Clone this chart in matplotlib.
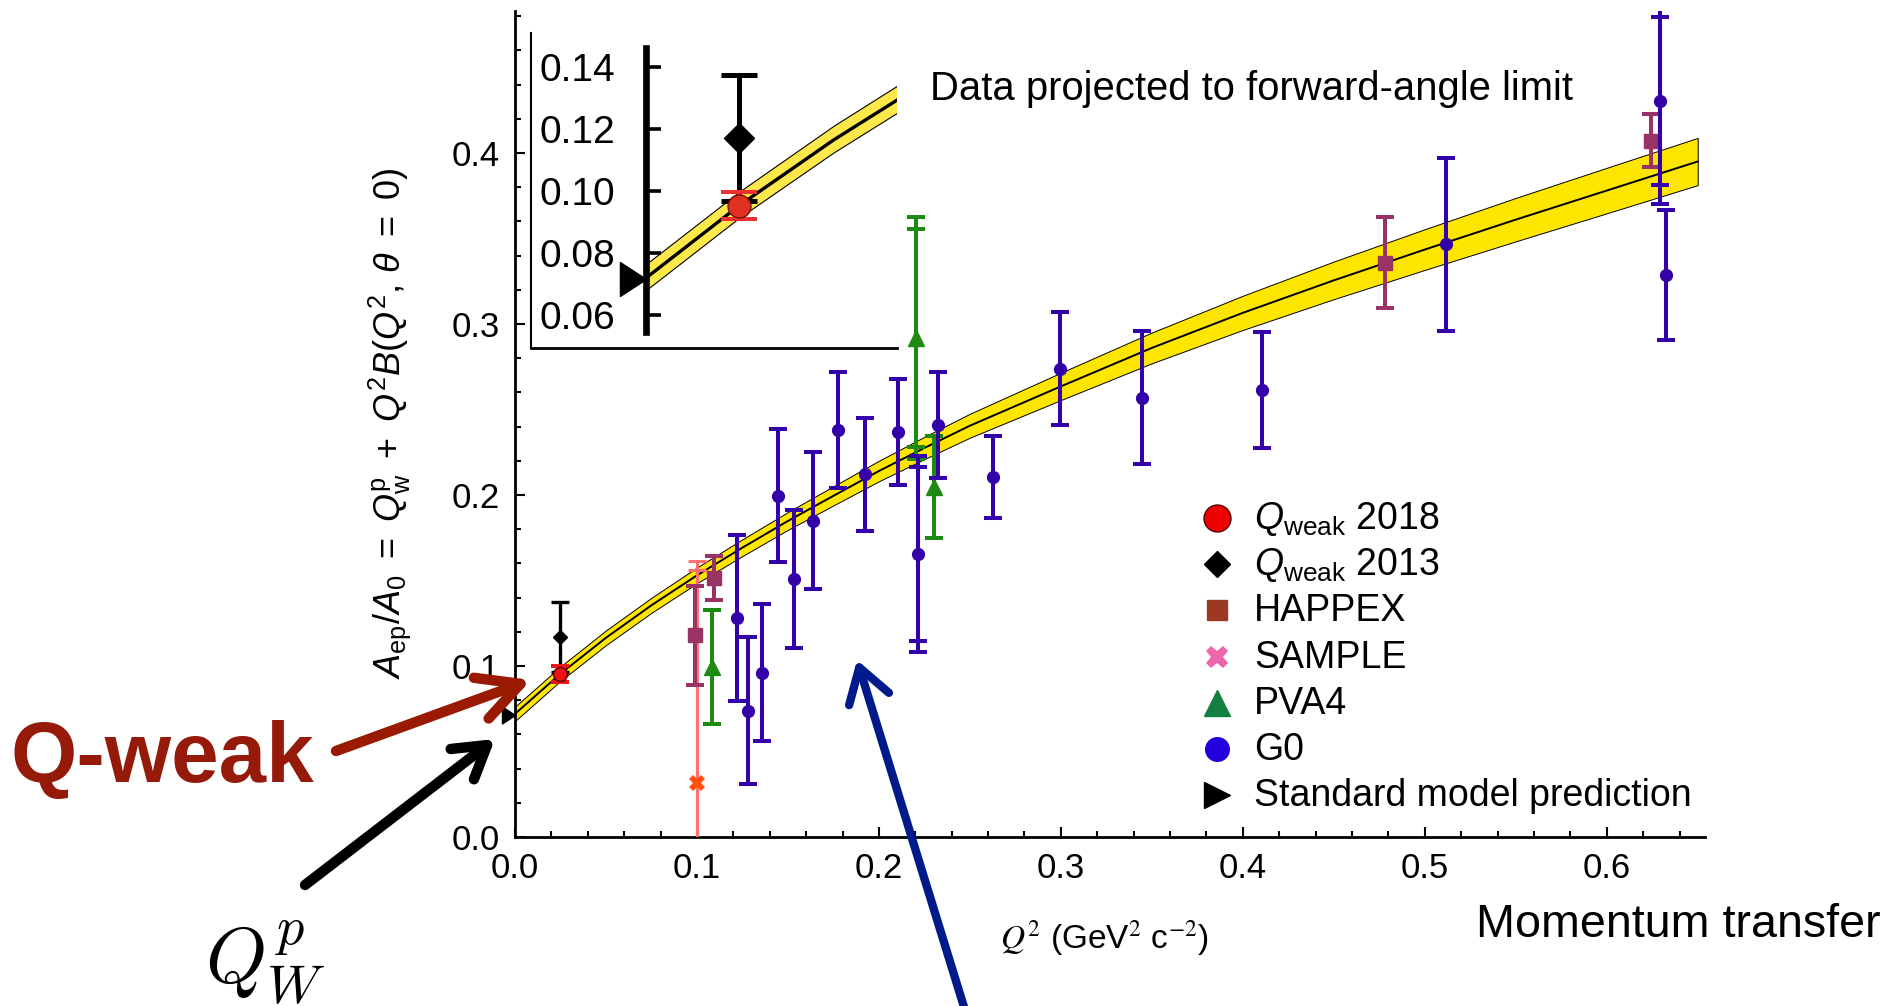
import numpy as np
import matplotlib.pyplot as plt
from matplotlib.lines import Line2D
from matplotlib.patches import FancyArrowPatch
from matplotlib.path import Path
from matplotlib.ticker import MultipleLocator

plt.rcParams['font.family'] = ['Liberation Sans', 'DejaVu Sans']
plt.rcParams['mathtext.fontset'] = 'custom'
plt.rcParams['mathtext.rm'] = 'Liberation Sans'
plt.rcParams['mathtext.it'] = 'Liberation Sans:italic'
plt.rcParams['mathtext.bf'] = 'Liberation Sans:bold'

# global fit (centre and half width of the band)
fit_q = [0.0, 0.025, 0.05, 0.075, 0.1, 0.125, 0.15, 0.175, 0.2, 0.225, 0.25,
         0.3, 0.35, 0.4, 0.45, 0.5, 0.55, 0.6, 0.65]
fit_v = [0.0720, 0.0955, 0.1165, 0.1355, 0.1530, 0.1692, 0.1848, 0.1995, 0.2140,
         0.2275, 0.2405, 0.2635, 0.2860, 0.3065, 0.3255, 0.3435, 0.3610, 0.3780, 0.3950]
fit_hw = [0.0042, 0.0042, 0.0043, 0.0044, 0.0046, 0.0049, 0.0052, 0.0056, 0.0060,
          0.0065, 0.0070, 0.0080, 0.0090, 0.0100, 0.0110, 0.0119, 0.0127, 0.0133, 0.0138]

# experiments
qweak18_q, qweak18_v, qweak18_e = [0.0248], [0.0953], [0.0044]
qweak13_q, qweak13_v, qweak13_e = [0.0248], [0.1170], [0.0203]
sm_q, sm_v = [0.0], [0.0715]

happex_q = [0.0990, 0.1093, 0.4780, 0.6245]
happex_v = [0.1180, 0.1516, 0.3359, 0.4072]
happex_e = [0.0290, 0.0130, 0.0267, 0.0156]

sample_q = [0.0998]
sample_v = [0.0314]
sample_e = [0.1300]
sample_e_inner = [0.1245]

pva4_q = [0.1080, 0.2203, 0.2304]
pva4_v = [0.0992, 0.2918, 0.2048]
pva4_e = [0.0333, 0.0710, 0.0297]
pva4_inner_q, pva4_inner_v, pva4_inner_e = [0.2203], [0.2918], [0.0635]

g0_q = [0.1220, 0.1280, 0.1360, 0.1443, 0.1533, 0.1640, 0.1773, 0.1923, 0.2103,
        0.2213, 0.2322, 0.2625, 0.2995, 0.3447, 0.4108, 0.5119, 0.6290, 0.6324]
g0_v = [0.1280, 0.0739, 0.0961, 0.1996, 0.1509, 0.1850, 0.2380, 0.2121, 0.2370,
        0.1655, 0.2409, 0.2106, 0.2737, 0.2569, 0.2614, 0.3465, 0.4304, 0.3287]
g0_e = [0.0485, 0.0430, 0.0400, 0.0390, 0.0405, 0.0400, 0.0340, 0.0330, 0.0310,
        0.0575, 0.0310, 0.0240, 0.0330, 0.0390, 0.0340, 0.0504, 0.0600, 0.0380]
g0_inner_q = [0.2213, 0.6290]
g0_inner_v = [0.1655, 0.4304]
g0_inner_e = [0.0510, 0.0490]

xticks = [0.0, 0.1, 0.2, 0.3, 0.4, 0.5, 0.6]
yticks = [0.0, 0.1, 0.2, 0.3, 0.4]
inset_yticks = [0.06, 0.08, 0.10, 0.12, 0.14]

legend_labels = [r'$Q_{\rm weak}$ 2018', r'$Q_{\rm weak}$ 2013', 'HAPPEX', 'SAMPLE',
                 'PVA4', 'G0', 'Standard model prediction']

W, H = 1893, 1006
fig = plt.figure(figsize=(W / 100, H / 100), dpi=100)


def fx(px):
    return px / W


def fy(py):
    return 1 - py / H


# right-pointing triangle with its tip at the data point
tip_marker = Path([(-1, -0.65), (0, 0), (-1, 0.65), (-1, -0.65)], closed=True)

fit_q = np.array(fit_q)
fit_v = np.array(fit_v)
fit_hw = np.array(fit_hw)

# ---------------- main axes ----------------
ax = fig.add_axes([fx(515), fy(837), (1705 - 515) / W, (837 - 11) / H])
ax.set_xlim(0, 0.654)
ax.set_ylim(0, 0.483)
for s in ['top', 'right']:
    ax.spines[s].set_visible(False)
for s in ['left', 'bottom']:
    ax.spines[s].set_linewidth(2)

ax.fill_between(fit_q, fit_v - fit_hw, fit_v + fit_hw, facecolor='#ffe600',
                edgecolor='black', lw=0.7, zorder=1)
ax.plot(fit_q, fit_v, color='black', lw=1.4, zorder=2)

eb = dict(capsize=6.5, capthick=2.9, elinewidth=2.9)
ax.errorbar(sample_q, sample_v, yerr=sample_e, fmt='none', ecolor='#ff7272',
            elinewidth=2.2, capsize=6.5, capthick=2.2, zorder=3)
ax.errorbar(sample_q, sample_v, yerr=sample_e_inner, fmt='none', ecolor='#ff7272',
            elinewidth=2.2, capsize=6.5, capthick=2.2, zorder=3)
ax.plot(sample_q, sample_v, 'X', color='#ff5010', ms=11, mew=0, zorder=4)

ax.errorbar(happex_q, happex_v, yerr=happex_e, fmt='s', color='#993366',
            ms=10, zorder=4, **eb)
ax.errorbar(pva4_q, pva4_v, yerr=pva4_e, fmt='^', color='#1f8a12',
            ms=12, zorder=4, **eb)
ax.errorbar(pva4_inner_q, pva4_inner_v, yerr=pva4_inner_e, fmt='none',
            ecolor='#1f8a12', zorder=4, **eb)
ax.errorbar(g0_q, g0_v, yerr=g0_e, fmt='o', color='#3300aa',
            ms=8.5, zorder=5, **eb)
ax.errorbar(g0_inner_q, g0_inner_v, yerr=g0_inner_e, fmt='none',
            ecolor='#3300aa', zorder=5, **eb)

ax.errorbar(qweak13_q, qweak13_v, yerr=qweak13_e, fmt='D', color='black', ms=7.5,
            elinewidth=2.4, capsize=6.5, capthick=2.4, zorder=6)
ax.errorbar(qweak18_q, qweak18_v, yerr=qweak18_e, fmt='o', color='#ee1111',
            mec='#550000', ms=10, ecolor='#ee1111',
            elinewidth=2.8, capsize=6.5, capthick=2.8, zorder=7)
ax.plot(sm_q, sm_v, marker=tip_marker, color='black', ms=18.7, ls='none',
        clip_on=False, zorder=8)

ax.set_xticks(xticks)
ax.set_xticklabels([f'{t:.1f}' for t in xticks])
ax.set_yticks(yticks)
ax.set_yticklabels([f'{t:.1f}' for t in yticks])
ax.xaxis.set_minor_locator(MultipleLocator(0.02))
ax.yaxis.set_minor_locator(MultipleLocator(0.02))
ax.tick_params(which='both', direction='in', width=1.5, labelsize=25, pad=11)
ax.tick_params(which='major', length=7)
ax.tick_params(which='minor', length=4)

# ---------------- inset ----------------
ax_in = fig.add_axes([fx(531), fy(348), 366 / W, 315 / H])
ax_in.set_facecolor('none')
ax_in.set_xlim(-0.0307, 0.0669)
ax_in.set_ylim(0.0494, 0.1510)
for s in ['top', 'right']:
    ax_in.spines[s].set_visible(False)
ax_in.spines['bottom'].set_linewidth(2)
ax_in.spines['left'].set_position(('data', 0))
ax_in.spines['left'].set_linewidth(4.8)
ax_in.spines['left'].set_bounds(0.0545, 0.1461)
ax_in.add_line(Line2D([0, 0], [0, 1], transform=ax_in.transAxes, color='black',
                      lw=1.5, clip_on=False))

ax_in.fill_between(fit_q, fit_v - fit_hw, fit_v + fit_hw, facecolor='#ffe84a',
                   edgecolor='black', lw=0.8, zorder=1)
ax_in.plot(fit_q, fit_v, color='black', lw=2.4, zorder=2)
ax_in.errorbar(qweak13_q, qweak13_v, yerr=qweak13_e, fmt='D', color='black', ms=15,
               elinewidth=3.6, capsize=13, capthick=3.6, zorder=5)
ax_in.errorbar(qweak18_q, qweak18_v, yerr=qweak18_e, fmt='o', color='#e03020',
               mec='#7a1000', ms=16.5, ecolor='#ee3030',
               elinewidth=2.9, capsize=13.3, capthick=2.9, zorder=6)
ax_in.plot(sm_q, sm_v, marker=tip_marker, color='black', ms=37.5, ls='none',
           clip_on=False, zorder=7)

ax_in.set_xticks([])
ax_in.set_yticks(inset_yticks)
ax_in.set_yticklabels([f'{t:.2f}' for t in inset_yticks])
ax_in.tick_params(axis='y', which='major', direction='in', length=11, width=2.6,
                  color='black', labelsize=28, pad=22)

# ---------------- texts ----------------
fig.text(fx(930), fy(100), 'Data projected to forward-angle limit', fontsize=28.8,
         va='baseline')
fig.text(fx(390), fy(423), r'$A_{\rm ep}/A_0\ =\ Q^{\rm p}_{\rm w}\ +\ Q^2B(Q^2,\,\theta\ =\ 0)$',
         rotation=90, ha='center', va='center', fontsize=26)
fig.text(fx(1000), fy(948), r'$Q^2$ (GeV$^2$ c$^{-2}$)', fontsize=24, va='baseline',
         math_fontfamily='stix')
fig.text(fx(1881), fy(937), 'Momentum transfer', fontsize=33.6, ha='right', va='baseline')
fig.text(fx(10), fy(782), 'Q-weak', fontsize=61.5, fontweight='bold', color='#961a0a',
         va='baseline')
fig.text(fx(205), fy(983), r'$Q_W^p$', fontsize=56, va='baseline', math_fontfamily='cm')

# ---------------- legend ----------------
legend_styles = [
    dict(marker='o', color='#ee0000', mec='#550000', mew=1, ms=19.4),
    dict(marker='D', color='black', ms=13.7),
    dict(marker='s', color='#9a3a24', ms=15),
    dict(marker='X', color='#ee66aa', ms=16.5, mew=0),
    dict(marker='^', color='#138040', ms=19),
    dict(marker='o', color='#2200dd', ms=17),
    dict(marker='>', color='black', ms=19),
]
for i, (lab, st) in enumerate(zip(legend_labels, legend_styles)):
    row = 518 + 46.2 * i
    fig.add_artist(Line2D([fx(1217)], [fy(row)], transform=fig.transFigure,
                          ls='none', **st))
    fig.text(fx(1254), fy(row + 11), lab, fontsize=27, va='baseline')

# ---------------- arrows ----------------
arrows = [
    ((336, 751), (531, 680), '#991a00', 7.5, 'head_length=1.0,head_width=0.52', 30),
    ((305, 885), (495, 739), 'black', 7.5, 'head_length=0.9,head_width=0.55', 25),
    ((968, 1020), (857, 660), '#001a8c', 6, 'head_length=0.95,head_width=0.6', 25),
]
for (x0, y0), (x1, y1), c, lw, hs, ms in arrows:
    fig.add_artist(FancyArrowPatch((fx(x0), fy(y0)), (fx(x1), fy(y1)),
                                   transform=fig.transFigure, arrowstyle='->,' + hs,
                                   mutation_scale=ms, color=c, lw=lw,
                                   shrinkA=0, shrinkB=0))

fig.savefig('out.png', dpi=100)
